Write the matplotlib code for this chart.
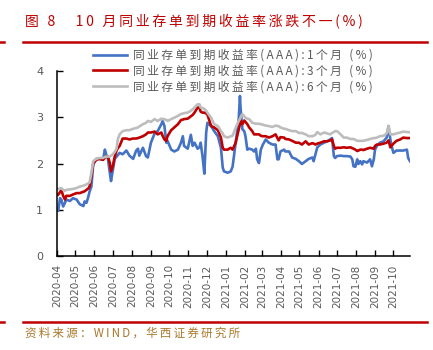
import matplotlib
matplotlib.use("Agg")
import matplotlib.pyplot as plt
import matplotlib.dates as mdates
import pandas as pd
from matplotlib.lines import Line2D

# values (AAA NCD yields, %)
dates = [
    "2020-04-03", "2020-04-06", "2020-04-08", "2020-04-11", "2020-04-14", "2020-04-16",
    "2020-04-22", "2020-04-27", "2020-05-03", "2020-05-08", "2020-05-14", "2020-05-16",
    "2020-05-19", "2020-05-22", "2020-05-24", "2020-05-27", "2020-05-30", "2020-06-04",
    "2020-06-09", "2020-06-15", "2020-06-18", "2020-06-20", "2020-06-23", "2020-06-26",
    "2020-06-28", "2020-07-01", "2020-07-04", "2020-07-07", "2020-07-09", "2020-07-12",
    "2020-07-17", "2020-07-23", "2020-07-28", "2020-08-03", "2020-08-08", "2020-08-11",
    "2020-08-13", "2020-08-19", "2020-08-24", "2020-08-27", "2020-09-01", "2020-09-07",
    "2020-09-12", "2020-09-18", "2020-09-20", "2020-09-23", "2020-09-26", "2020-09-28",
    "2020-10-04", "2020-10-09", "2020-10-15", "2020-10-20", "2020-10-23", "2020-10-25",
    "2020-10-31", "2020-11-05", "2020-11-08", "2020-11-11", "2020-11-16", "2020-11-19",
    "2020-11-21", "2020-11-24", "2020-11-27", "2020-11-30", "2020-12-02", "2020-12-08",
    "2020-12-13", "2020-12-19", "2020-12-24", "2020-12-27", "2020-12-29", "2021-01-04",
    "2021-01-09", "2021-01-12", "2021-01-17", "2021-01-22", "2021-01-24", "2021-01-25",
    "2021-01-28", "2021-01-31", "2021-02-02", "2021-02-05", "2021-02-08", "2021-02-13",
    "2021-02-16", "2021-02-19", "2021-02-21", "2021-02-24", "2021-02-27", "2021-03-02",
    "2021-03-07", "2021-03-12", "2021-03-18", "2021-03-23", "2021-03-26", "2021-03-28",
    "2021-03-31", "2021-04-06", "2021-04-08", "2021-04-14", "2021-04-19", "2021-04-25",
    "2021-04-30", "2021-05-05", "2021-05-11", "2021-05-16", "2021-05-22", "2021-05-24",
    "2021-05-27", "2021-05-30", "2021-06-04", "2021-06-10", "2021-06-15", "2021-06-20",
    "2021-06-23", "2021-06-26", "2021-06-28", "2021-07-01", "2021-07-07", "2021-07-12",
    "2021-07-17", "2021-07-23", "2021-07-26", "2021-07-28", "2021-07-31", "2021-08-03",
    "2021-08-05", "2021-08-08", "2021-08-11", "2021-08-13", "2021-08-19", "2021-08-24",
    "2021-08-27", "2021-08-30", "2021-09-01", "2021-09-04", "2021-09-09", "2021-09-15",
    "2021-09-20", "2021-09-23", "2021-09-26", "2021-09-28", "2021-10-01", "2021-10-06",
    "2021-10-12", "2021-10-17", "2021-10-23", "2021-10-25", "2021-10-28",
]

yield_1m = [
    0.98, 1.25, 1.22, 1.07, 1.15, 1.22, 1.19, 1.25, 1.22, 1.12, 1.08, 1.18,
    1.15, 1.28, 1.39, 1.50, 1.98, 2.10, 2.10, 2.08, 2.30, 2.20, 2.10, 1.80,
    1.62, 1.86, 2.10, 2.15, 2.18, 2.23, 2.20, 2.28, 2.17, 2.10, 2.28, 2.32,
    2.17, 2.34, 2.16, 2.13, 2.45, 2.65, 2.70, 2.85, 2.92, 2.81, 2.45, 2.49,
    2.30, 2.26, 2.30, 2.45, 2.59, 2.38, 2.32, 2.62, 2.38, 2.45, 2.32, 2.35,
    2.45, 2.16, 1.78, 2.67, 2.88, 2.81, 2.70, 2.59, 2.34, 1.91, 1.83, 1.80,
    1.83, 1.93, 2.45, 2.96, 3.46, 3.20, 2.74, 2.70, 2.59, 2.30, 2.32, 2.30,
    2.26, 2.32, 2.09, 2.01, 2.30, 2.40, 2.52, 2.45, 2.41, 2.41, 2.09, 2.09,
    2.26, 2.30, 2.26, 2.26, 2.13, 2.10, 2.05, 1.99, 2.05, 2.10, 2.13, 2.05,
    2.20, 2.35, 2.41, 2.45, 2.48, 2.52, 2.55, 2.16, 2.12, 2.16, 2.17, 2.16,
    2.16, 2.15, 2.09, 1.94, 1.93, 2.09, 1.99, 2.05, 1.98, 2.05, 2.02, 2.09,
    1.94, 2.09, 2.30, 2.38, 2.45, 2.48, 2.56, 2.81, 2.52, 2.38, 2.23, 2.28,
    2.28, 2.28, 2.30, 2.12, 2.05,
]

yield_3m = [
    1.33, 1.38, 1.43, 1.30, 1.22, 1.30, 1.30, 1.33, 1.36, 1.36, 1.39, 1.40,
    1.43, 1.46, 1.50, 1.72, 2.00, 2.08, 2.10, 2.08, 2.12, 2.15, 2.15, 2.01,
    1.83, 1.95, 2.15, 2.28, 2.33, 2.38, 2.54, 2.54, 2.52, 2.54, 2.54, 2.55,
    2.56, 2.59, 2.63, 2.67, 2.67, 2.69, 2.63, 2.67, 2.60, 2.52, 2.49, 2.59,
    2.72, 2.78, 2.85, 2.94, 2.95, 2.96, 2.97, 3.02, 3.05, 3.10, 3.21, 3.21,
    3.12, 3.10, 3.10, 3.08, 3.06, 2.81, 2.78, 2.72, 2.56, 2.34, 2.30, 2.30,
    2.34, 2.30, 2.45, 2.74, 2.85, 2.93, 2.85, 2.93, 2.90, 2.85, 2.78, 2.70,
    2.63, 2.63, 2.63, 2.63, 2.60, 2.59, 2.59, 2.56, 2.59, 2.63, 2.55, 2.50,
    2.57, 2.56, 2.53, 2.52, 2.49, 2.45, 2.45, 2.41, 2.48, 2.41, 2.44, 2.43,
    2.41, 2.43, 2.45, 2.48, 2.48, 2.50, 2.52, 2.38, 2.32, 2.34, 2.34, 2.35,
    2.34, 2.35, 2.33, 2.32, 2.30, 2.27, 2.28, 2.30, 2.30, 2.29, 2.32, 2.34,
    2.33, 2.32, 2.38, 2.41, 2.41, 2.43, 2.45, 2.50, 2.35, 2.38, 2.43, 2.49,
    2.52, 2.56, 2.55, 2.55, 2.55,
]

yield_6m = [
    1.45, 1.46, 1.47, 1.43, 1.41, 1.43, 1.44, 1.45, 1.47, 1.50, 1.52, 1.53,
    1.55, 1.57, 1.59, 1.79, 2.05, 2.10, 2.12, 2.12, 2.14, 2.15, 2.15, 2.15,
    2.17, 2.20, 2.25, 2.32, 2.52, 2.63, 2.70, 2.72, 2.72, 2.75, 2.77, 2.78,
    2.80, 2.85, 2.88, 2.92, 2.90, 2.96, 2.92, 2.97, 2.96, 2.96, 2.94, 2.92,
    2.96, 2.99, 3.03, 3.07, 3.08, 3.09, 3.10, 3.14, 3.17, 3.21, 3.28, 3.28,
    3.21, 3.20, 3.18, 3.14, 3.10, 2.99, 2.85, 2.81, 2.70, 2.65, 2.59, 2.56,
    2.59, 2.60, 2.77, 2.92, 2.96, 3.00, 3.07, 3.02, 2.99, 2.97, 2.96, 2.88,
    2.87, 2.86, 2.86, 2.86, 2.85, 2.84, 2.82, 2.81, 2.79, 2.82, 2.81, 2.81,
    2.78, 2.75, 2.75, 2.72, 2.70, 2.70, 2.66, 2.66, 2.63, 2.59, 2.59, 2.60,
    2.62, 2.68, 2.63, 2.67, 2.65, 2.63, 2.66, 2.68, 2.70, 2.70, 2.63, 2.56,
    2.56, 2.53, 2.53, 2.53, 2.51, 2.49, 2.49, 2.49, 2.49, 2.49, 2.51, 2.53,
    2.54, 2.55, 2.55, 2.56, 2.59, 2.60, 2.65, 2.81, 2.63, 2.63, 2.63, 2.65,
    2.67, 2.69, 2.68, 2.68, 2.67,
]

series_labels = [
    "同业存单到期收益率(AAA):1个月 (%)",
    "同业存单到期收益率(AAA):3个月 (%)",
    "同业存单到期收益率(AAA):6个月 (%)",
]
series_colors = ["#4472C4", "#C00000", "#BDBDBD"]
title = "图 8   10 月同业存单到期收益率涨跌不一(%)"
source = "资料来源：WIND，华西证券研究所"

RED = "#C00000"
GREY_TXT = "#595959"
CJK = ["Noto Sans CJK SC", "DejaVu Sans"]


def tracked(s):
    """Loose letter spacing like the report's Song typeface (thin spaces)."""
    return "\u2009".join(s)


plt.rcParams["font.family"] = ["DejaVu Sans", "Noto Sans CJK SC"]

W, H = 433, 350
fig = plt.figure(figsize=(W / 100, H / 100), dpi=100)
ax = fig.add_axes([57 / W, 1 - 256 / H, (410 - 57) / W, (256 - 71) / H])

x = pd.to_datetime(dates)
for vals, col, lab in zip([yield_1m, yield_3m, yield_6m], series_colors, series_labels):
    ax.plot(x, vals, color=col, lw=1.9, label=tracked(lab), solid_joinstyle="round")

ax.set_ylim(0, 4)
ax.set_yticks([0, 1, 2, 3, 4])
ax.set_xlim(pd.Timestamp("2020-04-01"), pd.Timestamp("2021-10-28"))
ax.xaxis.set_major_locator(mdates.MonthLocator())
ax.xaxis.set_major_formatter(mdates.DateFormatter("%Y-%m"))

for side in ("top", "right"):
    ax.spines[side].set_visible(False)
for side in ("left", "bottom"):
    ax.spines[side].set_color("black")
    ax.spines[side].set_linewidth(1.1)

ax.tick_params(axis="y", direction="in", length=4, width=1, pad=10,
               labelsize=8, labelcolor=GREY_TXT)
ax.tick_params(axis="x", direction="in", length=4, width=1, pad=6,
               labelsize=7.5, labelcolor=GREY_TXT, labelrotation=90)

leg = ax.legend(loc="upper left", bbox_to_anchor=(93 / W, 1 - 49 / H),
                bbox_transform=fig.transFigure, frameon=False,
                prop={"family": CJK, "size": 8.5}, labelcolor=GREY_TXT,
                handlelength=2.9, handletextpad=0.45, labelspacing=0.22,
                borderpad=0, borderaxespad=0)

# header / footer
fig.text(25 / W, 1 - 22 / H, tracked(title), color=RED, fontsize=10.0, family=CJK, va="center")
fig.text(25 / W, 1 - 333 / H, tracked(source), color="#A8782A", fontsize=8.3, family=CJK, va="center")
for yy in (42, 322):
    fig.add_artist(Line2D([23 / W, 427 / W], [1 - yy / H] * 2, color=RED, lw=1.8))
    fig.add_artist(Line2D([0, 4 / W], [1 - yy / H] * 2, color=RED, lw=1.8))

fig.savefig("out.png", dpi=100)
